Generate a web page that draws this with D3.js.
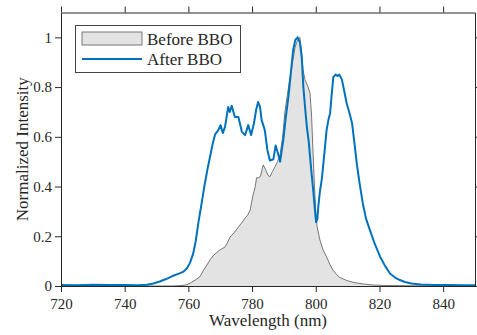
<!DOCTYPE html>
<html>
<head>
<meta charset="utf-8">
<script src="https://cdn.jsdelivr.net/npm/d3@7"></script>
<style>
  body { margin: 0; background: #fff; }
  svg { display: block; font-family: "Liberation Serif", "Times New Roman", serif; }
</style>
</head>
<body>
<svg id="chart"></svg>
<script>
// Before BBO (grey filled)
let beforeWl = [720, 755, 758, 759.5, 761, 762.3, 763.6, 764.6, 765.6, 766.8, 768, 769.9, 771.5, 772.3, 773.1, 774.4,
    775.7, 776.8, 777.8, 778.6, 779.4, 780.2, 781, 781.4, 782, 782.6, 783.5, 784.2, 785, 785.6, 786.4, 787.2, 788, 788.8,
    789.6, 790.3, 791.1, 791.9, 792.7, 793.5, 794.3, 795, 795.5, 796, 796.6, 797.1, 797.6, 798.2, 798.7, 799.1, 799.6,
    800, 800.4, 801.3, 802.3, 803.4, 804.5, 805.4, 806.6, 807.5, 809.7, 812, 815, 818, 822, 830, 850];
let beforeVal = [0, 0, 0.002, 0.005, 0.015, 0.025, 0.037, 0.06, 0.08, 0.105, 0.125, 0.145, 0.157, 0.175, 0.197, 0.215,
    0.237, 0.255, 0.273, 0.285, 0.305, 0.36, 0.40, 0.435, 0.435, 0.44, 0.487, 0.47, 0.445, 0.44, 0.46, 0.48, 0.50, 0.53,
    0.60, 0.70, 0.77, 0.84, 0.90, 0.96, 0.99, 1.0, 0.95, 0.87, 0.83, 0.815, 0.80, 0.775, 0.68, 0.55, 0.40,
    0.30, 0.24, 0.185, 0.145, 0.117, 0.085, 0.064, 0.045, 0.035, 0.022, 0.014, 0.008, 0.004, 0.002, 0.001, 0];

// After BBO (blue line)
let afterWl = [720, 725, 730, 735, 740, 744, 747, 749, 751, 753, 755, 757, 758.5, 759.5, 760.5, 761.5, 762.3, 763.2,
    764, 765, 766, 766.8, 767.6, 768.4, 769.4, 770.1, 770.8, 771.5, 772.5, 773, 773.6, 774.6, 775.7, 776.8, 777.8,
    778.8, 779.7, 780.6, 781.3, 781.9, 782.5, 783, 784, 784.8, 785.6, 786.7, 787.4, 788.1, 788.8, 789.8, 790.6, 791.4,
    792.2, 792.9, 793.6, 794.3, 795, 795.6, 796.1, 796.7, 797.2, 797.8, 798.2, 798.7, 799.2, 799.7, 800.1, 800.5,
    800.8, 801.3, 801.9, 802.6, 803.4, 804, 804.5, 805, 805.5, 806.2, 806.8, 807.4, 808.2, 809, 809.7, 810.5, 811.4,
    812.1, 812.9, 813.8, 814.8, 815.8, 817, 818.5, 820.2, 821.8, 823.3, 825, 826.4, 828, 830, 833, 837, 842, 846, 850];
let afterVal = [0.004, 0.003, 0.005, 0.004, 0.004, 0.003, 0.005, 0.01, 0.018, 0.028, 0.04, 0.05, 0.058, 0.07, 0.093,
    0.13, 0.18, 0.26, 0.32, 0.40, 0.47, 0.52, 0.57, 0.61, 0.627, 0.647, 0.615, 0.64, 0.72, 0.70, 0.725, 0.68, 0.68,
    0.62, 0.607, 0.647, 0.607, 0.655, 0.71, 0.74, 0.72, 0.667, 0.627, 0.547, 0.505, 0.51, 0.565, 0.535, 0.50, 0.587,
    0.68, 0.76, 0.86, 0.95, 0.99, 1.0, 0.98, 0.92, 0.80, 0.71, 0.64, 0.58, 0.52, 0.45, 0.386, 0.31, 0.257, 0.27,
    0.32, 0.38, 0.43, 0.52, 0.627, 0.67, 0.695, 0.77, 0.84, 0.85, 0.845, 0.85, 0.83, 0.78, 0.735, 0.70, 0.655,
    0.58, 0.49, 0.41, 0.33, 0.27, 0.225, 0.17, 0.118, 0.08, 0.05, 0.033, 0.024, 0.016, 0.01, 0.006, 0.004, 0.004,
    0.003, 0.003];

let xTicks = [720, 740, 760, 780, 800, 820, 840];
let yTicks = [0, 0.2, 0.4, 0.6, 0.8, 1];
let yTickLabels = ["0", "0.2", "0.4", "0.6", "0.8", "1"];
let seriesNames = ["Before BBO", "After BBO"];

function drawChart() {
    let w = 477, h = 335;
    let m = { left: 61, right: 2, top: 12.5, bottom: 49 };
    let axisColor = "#262626";
    let blue = "#0072bd";
    let serif = "Liberation Serif";

    let svg = d3.select("#chart").attr("width", w).attr("height", h);

    let x = d3.scaleLinear().domain([720, 850]).range([m.left, w - m.right]);
    let y = d3.scaleLinear().domain([0, 1.1]).range([h - m.bottom, m.top]);

    let before = beforeWl.map((d, i) => ({ x: d, y: beforeVal[i] }));
    let after = afterWl.map((d, i) => ({ x: d, y: afterVal[i] }));

    // grey area
    svg.append("path")
        .datum(before)
        .attr("fill", "#e3e3e3")
        .attr("d", d3.area().x(d => x(d.x)).y0(y(0)).y1(d => y(d.y)));
    svg.append("path")
        .datum(before)
        .attr("fill", "none")
        .attr("stroke", "#555")
        .attr("stroke-width", 0.8)
        .attr("d", d3.line().x(d => x(d.x)).y(d => y(d.y)));

    // blue line
    svg.append("path")
        .datum(after)
        .attr("fill", "none")
        .attr("stroke", blue)
        .attr("stroke-width", 2)
        .attr("stroke-linejoin", "round")
        .attr("d", d3.line().x(d => x(d.x)).y(d => y(d.y)));

    // axes (ticks outward, mirrored on top/right)
    let styleAxis = g => {
        g.attr("font-family", serif).attr("font-size", 15);
        g.selectAll("path, line").attr("stroke", axisColor);
        g.selectAll("text").attr("fill", axisColor);
    };
    svg.append("g")
        .attr("transform", `translate(0,${h - m.bottom})`)
        .call(d3.axisBottom(x).tickValues(xTicks).tickFormat(d3.format("d")).tickSize(6).tickSizeOuter(0).tickPadding(6))
        .call(styleAxis);
    svg.append("g")
        .attr("transform", `translate(0,${m.top})`)
        .call(d3.axisTop(x).tickValues(xTicks).tickFormat("").tickSize(6).tickSizeOuter(0))
        .call(styleAxis);
    svg.append("g")
        .attr("transform", `translate(${m.left},0)`)
        .call(d3.axisLeft(y).tickValues(yTicks).tickFormat((d, i) => yTickLabels[i]).tickSize(6).tickSizeOuter(0).tickPadding(3))
        .call(styleAxis);
    svg.append("g")
        .attr("transform", `translate(${w - m.right},0)`)
        .call(d3.axisRight(y).tickValues(yTicks).tickFormat("").tickSize(6).tickSizeOuter(0))
        .call(styleAxis);

    // axis labels
    svg.append("text")
        .attr("x", (m.left + w - m.right) / 2)
        .attr("y", 326)
        .attr("text-anchor", "middle")
        .attr("fill", axisColor)
        .attr("font-size", 17)
        .text("Wavelength (nm)");
    svg.append("text")
        .attr("transform", `translate(28,${(m.top + h - m.bottom) / 2}) rotate(-90)`)
        .attr("text-anchor", "middle")
        .attr("fill", axisColor)
        .attr("font-size", 17)
        .text("Normalized Intensity");

    // legend
    let lg = svg.append("g");
    lg.append("rect")
        .attr("x", 75.5).attr("y", 25.5).attr("width", 165).attr("height", 47)
        .attr("fill", "#fff").attr("stroke", "#444").attr("stroke-width", 1);
    lg.append("rect")
        .attr("x", 82).attr("y", 32).attr("width", 60).attr("height", 13)
        .attr("fill", "#e3e3e3").attr("stroke", "#777").attr("stroke-width", 1);
    lg.append("line")
        .attr("x1", 82).attr("x2", 142).attr("y1", 59).attr("y2", 59)
        .attr("stroke", blue).attr("stroke-width", 2);
    lg.selectAll("text.lbl")
        .data(seriesNames)
        .enter()
        .append("text")
        .attr("class", "lbl")
        .attr("x", 147)
        .attr("y", (d, i) => 45 + i * 20)
        .attr("fill", axisColor)
        .attr("font-size", 17)
        .text(d => d);
}

window.onload = function() {
    drawChart();
}
</script>
</body>
</html>
